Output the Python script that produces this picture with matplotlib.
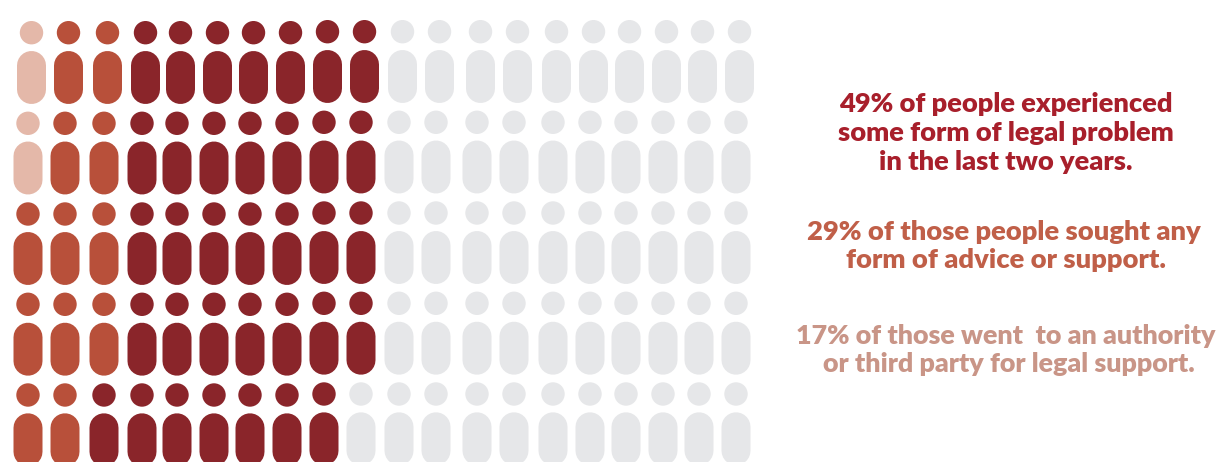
import matplotlib
matplotlib.use("Agg")
import matplotlib.pyplot as plt
from matplotlib.patches import Circle

# people per row, by colour group (left to right)
categories = ["authority", "advice", "problem", "none"]
row_1 = [1, 2, 7, 10]
row_2 = [1, 2, 7, 10]
row_3 = [0, 3, 7, 10]
row_4 = [0, 3, 7, 10]
row_5 = [0, 2, 7, 11]
rows = [row_1, row_2, row_3, row_4, row_5]

colors = {"authority": "#e4b8a9", "advice": "#b8503a", "problem": "#8a252a", "none": "#e6e7e9"}

lines_1 = ["49% of people experienced", "some form of legal problem", "in the last two years."]
lines_2 = ["29% of those people sought any", "form of advice or support."]
lines_3 = ["17% of those went  to an authority", "or third party for legal support."]

# layout, in pixels
col_x = [28, 65, 104, 142, 177, 214, 250, 287, 324, 361, 399, 436, 477, 514, 553, 590, 626, 663, 699, 736]
head_y = [32.7, 123.3, 214, 304.3, 395]
body_top = [51, 141.5, 232, 322.7, 413.3]
body_w = 29
body_h = 53
head_r = 11.7

fig = plt.figure(figsize=(12.17, 4.62), dpi=100)
ax = fig.add_axes([0, 0, 1, 1])
ax.set_xlim(0, 1217)
ax.set_ylim(462, 0)
ax.axis("off")

for r, counts in enumerate(rows):
    names = []
    for name, n in zip(categories, counts):
        names += [name] * n
    for c, name in enumerate(names):
        x = col_x[c]
        dy = 0
        # first row sits a little to the right of the others
        if r == 0:
            x += 3.5
        # right hand part of each row is slightly higher
        if c >= 8:
            dy = -1
        ax.add_patch(Circle((x, head_y[r] + dy), head_r, color=colors[name], lw=0))
        # body is a thick line with round caps, width given in points
        top = body_top[r] + dy
        ax.plot([x, x], [top + body_w / 2, top + body_h - body_w / 2], color=colors[name],
                lw=body_w * 0.72, solid_capstyle="round", snap=False)


def put_text(lines, xs, ys, color, size):
    for line, x, y in zip(lines, xs, ys):
        ax.text(x, y, line, color=color, fontsize=size, fontweight="heavy", family="Lato",
                ha="center", va="center")


put_text(lines_1, [1006, 1006, 1006], [104.5, 133, 161.5], "#a81f2b", 19.65)
put_text(lines_2, [1003.5, 1006], [231.5, 259.5], "#c05f48", 19.7)
put_text(lines_3, [1006, 1008.5], [335.5, 364], "#c99587", 19.35)

plt.savefig("out.png", dpi=100)
